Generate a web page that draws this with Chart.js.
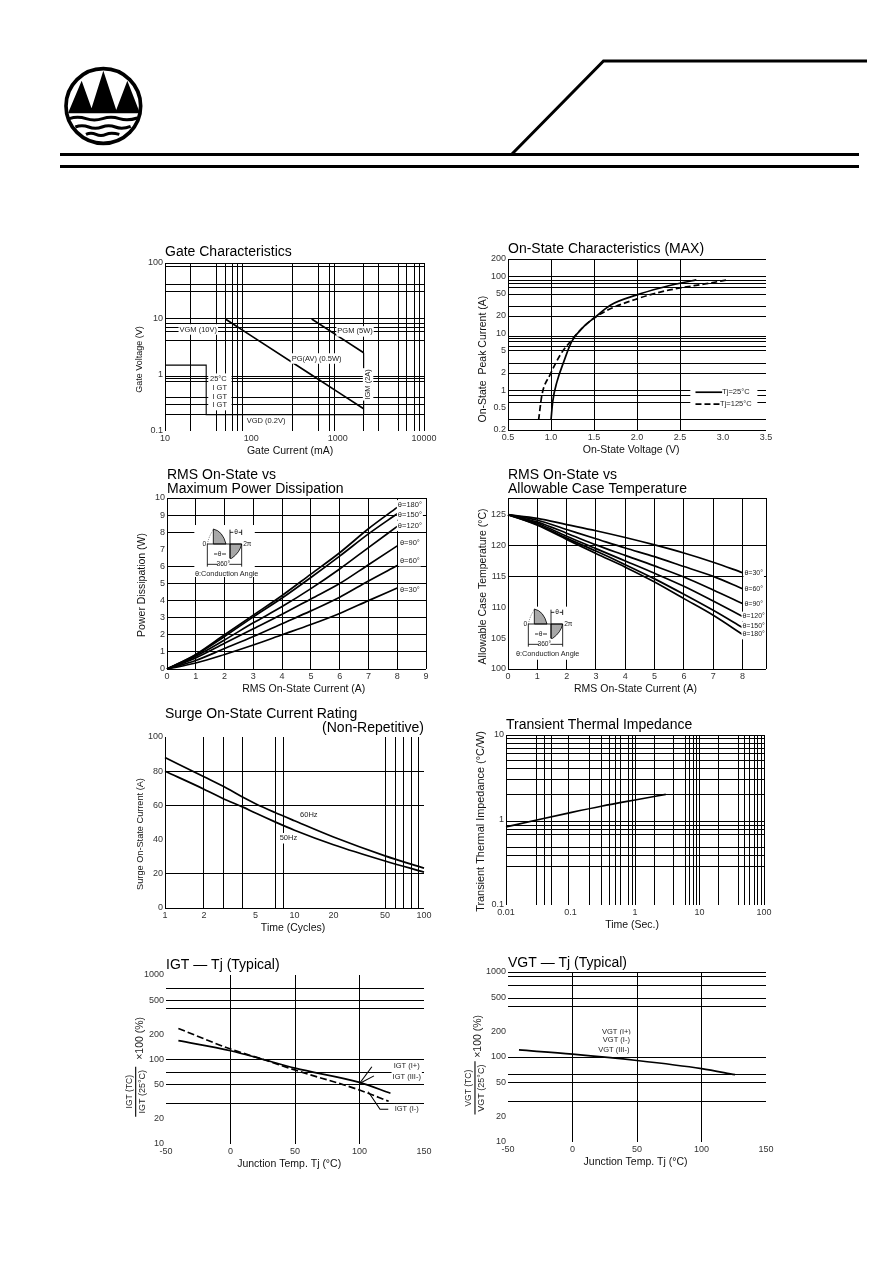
<!DOCTYPE html>
<html>
<head>
<meta charset="utf-8">
<title>Thyristor characteristics</title>
<script src="https://cdn.jsdelivr.net/npm/chart.js@4/dist/chart.umd.min.js"></script>
<style>
html, body { margin: 0; padding: 0; background: #fff; }
#page { position: relative; width: 894px; height: 1263px; overflow: hidden; background: #fff; }
#page canvas, #page svg { position: absolute; display: block; }
</style>
</head>
<body>
<div id="page">
<svg id="head" style="left:0;top:0" width="894" height="200" viewBox="0 0 894 200">
    <g transform="translate(40 50) scale(0.3333)">
        <circle cx="190" cy="168" r="112" fill="#fff" stroke="#000" stroke-width="11"/>
        <path d="M125 92 L84 190 L160 190 Z M190 62 L150 190 L232 190 Z M262 92 L225 190 L300 190 Z" fill="#000"/>
        <g fill="none" stroke="#000" stroke-width="9">
            <path d="M88 206 q25 -8 50 0 t50 0 t50 0 t54 -2"/>
            <path d="M106 231 q20 -8 40 0 t40 0 t40 0 t46 -2"/>
            <path d="M138 253 q15 -7 30 0 t30 0 t40 0"/>
        </g>
    </g>
    <path d="M511 155 L603.5 61 L867 61" fill="none" stroke="#000" stroke-width="3"/>
    <rect x="60" y="153" width="799" height="3" fill="#000"/>
    <rect x="60" y="165" width="799" height="3" fill="#000"/>
</svg>
</div>
<script>
// grid lines are where the scan shows them, tick labels are where they were printed
const gateGridX = [10, 20, 40, 50, 60, 70, 80, 300, 600, 800, 930, 2000, 3000, 5000, 6300, 7700, 8900, 10000]
const gateGridY = [100, 85, 42, 31, 10.4, 8.2, 7.1, 6.1, 4.1, 0.95, 0.86, 0.78, 0.39, 0.3, 0.196]
const gateLabelsX = ["10", "100", "1000", "10000"]
const gateLabelsY = ["0.1", "1", "10", "100"]
const pgmX = [500, 1000, 2000]
const pgmY = [10, 5, 2.5]
const pgavX = [50, 100, 500, 1000, 2000]
const pgavY = [10, 5, 1, 0.5, 0.25]
const igmX = [2000, 2000]
const igmY = [2.5, 0.196]
const igtBoxX = [10, 30, 30, 2000]
const igtBoxY = [1.5, 1.5, 0.196, 0.196]

const onGridX = [0.5, 1, 1.5, 2, 2.5]
const onGridY = [200, 100, 85.5, 73, 62, 47, 29.3, 19.6, 8.7, 7.9, 7, 5.8, 4.95, 2.95, 1.99, 1, 0.81, 0.6, 0.3, 0.2]
const onLabelsX = ["0.5", "1.0", "1.5", "2.0", "2.5", "3.0", "3.5"]
const onLabelsY = ["0.2", "0.5", "1", "2", "5", "10", "20", "50", "100", "200"]
const on25X = [1.0, 1.02, 1.07, 1.15, 1.24, 1.38, 1.5, 1.69, 2.0, 2.27, 2.5, 2.69]
const on25Y = [0.3, 0.63, 1.41, 3.2, 7.1, 13, 18.4, 31, 47, 62, 75, 86]
const on125X = [0.856, 0.895, 0.99, 1.11, 1.24, 1.38, 1.5, 1.69, 2.0, 2.27, 2.5, 2.79, 3.06]
const on125Y = [0.3, 0.83, 1.87, 4.2, 7.6, 13, 18.4, 26.7, 40, 52.6, 62, 73, 86.6]
const legendLineX = [2.68, 2.99]
const legend25Y = [0.92, 0.92]
const legend125Y = [0.57, 0.57]

const rmsGridX = [0, 1, 2, 3, 4, 5, 6, 7, 8, 9]
const powerGridY = [0, 1, 2, 3, 4, 5, 6, 8, 9, 10]
const powerLabelsX = ["0", "1", "2", "3", "4", "5", "6", "7", "8", "9"]
const powerLabelsY = ["0", "1", "2", "3", "4", "5", "6", "7", "8", "9", "10"]
const rmsX = [0, 1, 2, 3, 4, 5, 6, 7, 8]
const power180 = [0, 0.85, 2, 3.15, 4.3, 5.55, 6.8, 8.2, 9.45]
const power150 = [0, 0.82, 1.9, 3.05, 4.15, 5.35, 6.6, 7.9, 9.08]
const power120 = [0, 0.75, 1.7, 2.7, 3.65, 4.7, 5.85, 7.1, 8.34]
const power90 = [0, 0.65, 1.5, 2.35, 3.2, 4.1, 5.0, 6.1, 7.2]
const power60 = [0, 0.5, 1.2, 1.9, 2.65, 3.4, 4.2, 5.15, 6.05]
const power30 = [0, 0.35, 0.85, 1.4, 2.0, 2.6, 3.25, 4.0, 4.74]

const caseGridX = [0, 1, 2, 3, 4, 5, 6, 7, 8, 8.8]
const caseGridY = [100, 115, 120, 127.7]
const caseLabelsX = ["0", "1", "2", "3", "4", "5", "6", "7", "8"]
const caseLabelsY = ["100", "105", "110", "115", "120", "125"]
const case30 = [125, 124.4, 123.4, 122.4, 121.3, 120.1, 118.8, 117.3, 115.6]
const case60 = [125, 124.1, 122.6, 121.1, 119.6, 118.2, 116.6, 115, 113]
const case90 = [125, 123.8, 122, 120.1, 118.4, 116.7, 114.9, 112.8, 110.6]
const case120 = [125, 123.6, 121.5, 119.5, 117.5, 115.5, 113.4, 111, 108.5]
const case150 = [125, 123.4, 121.2, 119.1, 116.9, 114.6, 112.1, 109.5, 106.7]
const case180 = [125, 123.3, 121, 118.7, 116.5, 114.1, 111.4, 108.7, 105.6]

const surgeGridX = [1, 2, 2.82, 3.96, 7.1, 8.2, 50, 60, 70, 80, 90]
const surgeGridY = [0, 20, 60, 80]
const surgeLabelsX = ["1", "2", "5", "10", "20", "50", "100"]
const surgeLabelsY = ["0", "20", "40", "60", "80", "100"]
const cyclesX = [1, 2, 3, 4, 5, 7, 10, 20, 50, 100]
const surge60 = [88, 76.7, 70, 64.7, 61, 56, 51, 41.5, 30.5, 23.3]
const surge50 = [80, 69.5, 63, 59, 55.5, 50.5, 45.5, 37, 27.5, 21]

const thermalGridX = [0.01, 0.03, 0.04, 0.05, 0.092, 0.2, 0.3, 0.4, 0.5, 0.6, 0.8, 0.9, 1, 2, 4, 6, 7, 8, 9, 10, 20, 40, 50, 60, 70, 80, 90, 100]
const thermalGridY = [10, 9, 8, 7, 6, 5, 4, 3, 2, 0.96, 0.86, 0.77, 0.68, 0.48, 0.38, 0.285]
const thermalLabelsX = ["0.01", "0.1", "1", "10", "100"]
const thermalLabelsY = ["0.1", "1", "10"]
const thermalX = [0.01, 0.03, 0.1, 0.3, 1, 3]
const thermalY = [0.83, 1.0, 1.22, 1.45, 1.72, 2]

const tempGridX = [0, 50, 100]
const tempLabelsX = ["-50", "0", "50", "100", "150"]
const tempLabelsY = ["10", "20", "50", "100", "200", "500", "1000"]
const igtGridY = [30.1, 50.8, 70.6, 100, 403, 501, 695]
const igtSolidX = [-40.4, 0, 25.5, 50, 100, 124]
const igtSolidY = [167, 127, 100, 79, 53.6, 39.8]
const igtDashX = [-40.4, 0, 25.5, 50, 100, 122.6]
const igtDashY = [233, 133, 100, 75, 43.5, 32]
const vgtGridY = [30, 50.8, 61.5, 100, 398, 494, 703, 897, 1000]
const vgtX = [-41.5, 0, 50, 100, 126]
const vgtY = [121, 108, 91, 73, 62]

const nb = n => "\u00a0".repeat(n)
const yBox = 50
const xBox = 28
const rightPad = 20
const page = document.querySelector("#page")

Chart.defaults.font.family = "'Liberation Sans', Arial, sans-serif"
Chart.defaults.color = "#222"

function pts(xs, ys) {
    return xs.map((x, i) => ({ x, y: ys[i] }))
}

function line(xs, ys, opts) {
    const o = opts || {}
    const ds = {
        data: pts(xs, ys),
        showLine: true,
        borderColor: "#000",
        borderWidth: o.width || 1.7,
        pointRadius: 0,
        clip: false,
        fill: false
    }
    if (o.dash) ds.borderDash = o.dash
    if (o.smooth) ds.cubicInterpolationMode = "monotone"
    return ds
}

function curve(xs, ys, dash) {
    return line(xs, ys, { smooth: true, dash })
}

function thin(xs, ys) {
    return line(xs, ys, { width: 1.1 })
}

function axis(a) {
    const labelMap = new Map(a.labels.map(s => [Number(s), s]))
    const gridSet = new Set(a.grid)
    const values = [...new Set([...a.grid, ...labelMap.keys()])].sort((p, q) => p - q)
    return {
        type: a.log ? "logarithmic" : "linear",
        min: a.min,
        max: a.max,
        afterBuildTicks(scale) { scale.ticks = values.map(value => ({ value })) },
        ticks: {
            autoSkip: false,
            maxRotation: 0,
            minRotation: 0,
            padding: 2,
            color: "#333",
            font: { size: 9 },
            callback: v => labelMap.has(v) ? labelMap.get(v) : ""
        },
        grid: {
            drawTicks: false,
            lineWidth: 1,
            color: c => c.tick && gridSet.has(c.tick.value) ? "#000" : "rgba(0,0,0,0)"
        },
        border: { display: false }
    }
}

// white patches go under the curves, texts go over them
function decor(spec) {
    return {
        id: "decor",
        beforeDatasetsDraw(chart) {
            const ctx = chart.ctx
            const sx = chart.scales.x
            const sy = chart.scales.y
            ctx.save()
            ctx.fillStyle = "#fff"
            ;(spec.blanks || []).forEach(b => {
                const x0 = sx.getPixelForValue(b[0])
                const x1 = sx.getPixelForValue(b[1])
                const y0 = sy.getPixelForValue(b[2])
                const y1 = sy.getPixelForValue(b[3])
                ctx.fillRect(x0, y1, x1 - x0, y0 - y1)
            })
            ctx.restore()
        },
        afterDatasetsDraw(chart) {
            const ctx = chart.ctx
            ;(spec.notes || []).forEach(n => {
                const size = n.size || 7.5
                ctx.save()
                ctx.translate(chart.scales.x.getPixelForValue(n.x), chart.scales.y.getPixelForValue(n.y))
                if (n.rot) ctx.rotate(n.rot * Math.PI / 180)
                ctx.font = size + "px 'Liberation Sans', Arial, sans-serif"
                ctx.textAlign = "center"
                ctx.textBaseline = "middle"
                if (!n.plain) {
                    const w = ctx.measureText(n.t).width + 2
                    ctx.fillStyle = "#fff"
                    ctx.fillRect(-w / 2, -size * 0.7, w, size * 1.4)
                }
                ctx.fillStyle = n.color || "#222"
                ctx.fillText(n.t, 0, 0)
                ctx.restore()
            })
        }
    }
}

function panel(spec) {
    const box = spec.box
    const lines = spec.title.length + (spec.subtitle ? 1 : 0)
    const titleBlock = lines * 14 + spec.gap
    const canvas = document.createElement("canvas")
    canvas.width = yBox + (box.r - box.l) + rightPad
    canvas.height = titleBlock + (box.b - box.t) + xBox
    canvas.style.left = (box.l - yBox) + "px"
    canvas.style.top = (box.t - titleBlock) + "px"
    page.appendChild(canvas)

    const x = axis(spec.x)
    const y = axis(spec.y)
    x.afterFit = s => { s.height = xBox }
    y.afterFit = s => { s.width = yBox }
    x.title = {
        display: true,
        text: spec.x.title,
        color: "#111",
        font: { size: 10.5, lineHeight: "12px" },
        padding: { top: 0, bottom: 2 }
    }
    if (spec.y.title) {
        y.title = {
            display: true,
            text: spec.y.title,
            color: "#111",
            font: { size: spec.y.titleSize || 10.5, lineHeight: "12px" },
            padding: { top: 19, bottom: 0 }
        }
    }
    const titleFont = { size: 14, lineHeight: "14px", weight: "normal" }
    return new Chart(canvas, {
        type: "scatter",
        data: { datasets: spec.datasets },
        options: {
            responsive: false,
            animation: false,
            devicePixelRatio: 1,
            events: [],
            layout: { padding: { left: 0, right: rightPad, top: 0, bottom: 0 } },
            scales: { x, y },
            plugins: {
                legend: { display: false },
                tooltip: { enabled: false },
                title: {
                    display: true,
                    text: spec.title,
                    align: "start",
                    fullSize: false,
                    color: "#000",
                    font: titleFont,
                    padding: { top: 0, bottom: spec.subtitle ? 0 : spec.gap }
                },
                subtitle: {
                    display: !!spec.subtitle,
                    text: spec.subtitle || "",
                    align: "end",
                    fullSize: false,
                    color: "#000",
                    font: titleFont,
                    padding: { top: 0, bottom: spec.gap }
                }
            }
        },
        plugins: [decor(spec)]
    })
}

panel({
    box: { l: 165, r: 424, t: 263, b: 431 },
    title: ["Gate Characteristics"],
    gap: 4,
    x: { log: true, min: 10, max: 10000, grid: gateGridX, labels: gateLabelsX, title: "Gate Current (mA)" + nb(3) },
    y: { log: true, min: 0.1, max: 100, grid: gateGridY, labels: gateLabelsY, title: "Gate Voltage (V)" + nb(10), titleSize: 9 },
    datasets: [
        line(pgmX, pgmY),
        line(pgavX, pgavY),
        thin(igmX, igmY),
        thin(igtBoxX, igtBoxY)
    ],
    blanks: [[31.7, 59, 0.24, 1.03]],
    notes: [
        { t: "VGM (10V)", x: 24.3, y: 6.5 },
        { t: "PGM (5W)", x: 1590, y: 6 },
        { t: "PG(AV) (0.5W)", x: 570, y: 1.97 },
        { t: "25°C", x: 41.5, y: 0.86 },
        { t: "I GT", x: 43, y: 0.58 },
        { t: "I GT", x: 43, y: 0.41 },
        { t: "I GT", x: 43, y: 0.29 },
        { t: "VGD (0.2V)", x: 148, y: 0.15 },
        { t: "IGM (2A)", x: 2250, y: 0.68, rot: -90 }
    ]
})

panel({
    box: { l: 508, r: 766, t: 259, b: 430 },
    title: ["On-State Characteristics (MAX)"],
    gap: 3,
    x: { min: 0.5, max: 3.5, grid: onGridX, labels: onLabelsX, title: "On-State Voltage (V)" + nb(4) },
    y: { log: true, min: 0.2, max: 200, grid: onGridY, labels: onLabelsY, title: "On-State  Peak Current (A)" + nb(10) },
    datasets: [
        curve(on25X, on25Y),
        curve(on125X, on125Y, [6, 3]),
        line(legendLineX, legend25Y),
        line(legendLineX, legend125Y, { dash: [6, 3] })
    ],
    blanks: [[2.62, 3.4, 0.48, 1.08]],
    notes: [
        { t: "Tj=25°C", x: 3.15, y: 0.92, plain: true },
        { t: "Tj=125°C", x: 3.15, y: 0.57, plain: true }
    ]
})

panel({
    box: { l: 167, r: 426, t: 498, b: 669 },
    title: ["RMS On-State vs", "Maximum Power Dissipation"],
    gap: 2,
    x: { min: 0, max: 9, grid: rmsGridX, labels: powerLabelsX, title: nb(5) + "RMS On-State Current (A)" },
    y: { min: 0, max: 10, grid: powerGridY, labels: powerLabelsY, title: "Power Dissipation (W)" + nb(1) },
    datasets: [
        curve(rmsX, power180),
        curve(rmsX, power150),
        curve(rmsX, power120),
        curve(rmsX, power90),
        curve(rmsX, power60),
        curve(rmsX, power30)
    ],
    blanks: [[0.95, 3.05, 5.38, 8.42]],
    notes: [
        { t: "θ=180°", x: 8.44, y: 9.57 },
        { t: "θ=150°", x: 8.44, y: 9.03 },
        { t: "θ=120°", x: 8.44, y: 8.38 },
        { t: "θ=90°", x: 8.44, y: 7.37 },
        { t: "θ=60°", x: 8.44, y: 6.3 },
        { t: "θ=30°", x: 8.44, y: 4.6 }
    ]
})

panel({
    box: { l: 508, r: 766, t: 498, b: 669 },
    title: ["RMS On-State vs", "Allowable Case Temperature"],
    gap: 2,
    x: { min: 0, max: 8.8, grid: caseGridX, labels: caseLabelsX, title: "RMS On-State Current (A)" + nb(1) },
    y: { min: 100, max: 127.7, grid: caseGridY, labels: caseLabelsY, title: "Allowable Case Temperature (°C)" + nb(2) },
    datasets: [
        curve(rmsX, case30),
        curve(rmsX, case60),
        curve(rmsX, case90),
        curve(rmsX, case120),
        curve(rmsX, case150),
        curve(rmsX, case180)
    ],
    blanks: [[0.28, 2.44, 101.5, 110.1]],
    notes: [
        { t: "θ=30°", x: 8.38, y: 115.6, size: 7 },
        { t: "θ=60°", x: 8.38, y: 113, size: 7 },
        { t: "θ=90°", x: 8.38, y: 110.6, size: 7 },
        { t: "θ=120°", x: 8.38, y: 108.5, size: 7 },
        { t: "θ=150°", x: 8.38, y: 106.9, size: 7 },
        { t: "θ=180°", x: 8.38, y: 105.6, size: 7 }
    ]
})

panel({
    box: { l: 165, r: 424, t: 737, b: 908 },
    title: ["Surge On-State Current Rating"],
    subtitle: "(Non-Repetitive)",
    gap: 2,
    x: { log: true, min: 1, max: 100, grid: surgeGridX, labels: surgeLabelsX, title: "Time (Cycles)" + nb(1) },
    y: { min: 0, max: 100, grid: surgeGridY, labels: surgeLabelsY, title: "Surge On-State Current (A)" + nb(9), titleSize: 9.2 },
    datasets: [
        curve(cyclesX, surge60),
        curve(cyclesX, surge50)
    ],
    notes: [
        { t: "60Hz", x: 12.9, y: 54.4 },
        { t: "50Hz", x: 8.97, y: 40.8 }
    ]
})

panel({
    box: { l: 506, r: 764, t: 735, b: 905 },
    title: ["Transient Thermal Impedance"],
    gap: 3,
    x: { log: true, min: 0.01, max: 100, grid: thermalGridX, labels: thermalLabelsX, title: "Time (Sec.)" + nb(2) },
    y: { log: true, min: 0.1, max: 10, grid: thermalGridY, labels: thermalLabelsY, title: "Transient Thermal Impedance (°C/W)" + nb(1), titleSize: 10.9 },
    datasets: [
        curve(thermalX, thermalY)
    ]
})

panel({
    box: { l: 166, r: 424, t: 975, b: 1144 },
    title: ["IGT — Tj (Typical)"],
    gap: 3,
    x: { min: -50, max: 150, grid: tempGridX, labels: tempLabelsX, title: "Junction Temp. Tj (°C)" + nb(4) },
    y: { log: true, min: 10, max: 1000, grid: igtGridY, labels: tempLabelsY },
    datasets: [
        curve(igtSolidX, igtSolidY),
        curve(igtDashX, igtDashY, [7, 3]),
        thin([100, 109.6], [52, 82]),
        thin([100, 111.2], [52, 64]),
        thin([106.8, 115.9, 122.3], [41.5, 25.8, 25.8]),
        thin([-73.5, -73.5], [21, 82])
    ],
    notes: [
        { t: "IGT (I+)", x: 136.6, y: 84 },
        { t: "IGT (III-)", x: 136.6, y: 62 },
        { t: "IGT (I-)", x: 136.6, y: 25.8 },
        { t: "IGT (TC)", x: -78.5, y: 41.6, rot: -90, size: 8.5, plain: true },
        { t: "IGT (25°C)", x: -68.5, y: 41.6, rot: -90, size: 9, plain: true },
        { t: "×100 (%)", x: -70.2, y: 178, rot: -90, size: 10.5, plain: true }
    ]
})

panel({
    box: { l: 508, r: 766, t: 972, b: 1142 },
    title: ["VGT — Tj (Typical)"],
    gap: 2,
    x: { min: -50, max: 150, grid: tempGridX, labels: tempLabelsX, title: "Junction Temp. Tj (°C)" + nb(1) },
    y: { log: true, min: 10, max: 1000, grid: vgtGridY, labels: tempLabelsY },
    datasets: [
        curve(vgtX, vgtY),
        thin([-75.6, -75.6], [21, 89])
    ],
    notes: [
        { t: "VGT (I+)", x: 34, y: 197 },
        { t: "VGT (I-)", x: 34, y: 160 },
        { t: "VGT (III-)", x: 32, y: 122 },
        { t: "VGT (TC)", x: -80.5, y: 43, rot: -90, size: 8.5, plain: true },
        { t: "VGT (25°C)", x: -70.5, y: 43, rot: -90, size: 9, plain: true },
        { t: "×100 (%)", x: -73, y: 175, rot: -90, size: 10.5, plain: true }
    ]
})

// the small waveform sketch printed inside the two RMS panels
const sketch = `
<defs><pattern id="dots" width="5" height="5" patternUnits="userSpaceOnUse"><circle cx="2.5" cy="2.5" r="1.6" fill="#000"/></pattern></defs>
<g fill="none" stroke="#000" stroke-width="2.5">
<path d="M70 42 Q98 48 108 87 L70 87 Z" fill="url(#dots)"/>
<path d="M120 87 L155 87 Q150 112 125 130 L120 130 Z" fill="url(#dots)"/>
<path d="M52 87 L155 87 M120 44 L120 130 M155 44 L155 60 M120 52 L130 52 M146 52 L155 52 M52 87 L52 155 M155 87 L155 155 M52 148 L155 148 M72 117 L82 117 M96 117 L108 117"/>
<path d="M52 87 Q58 60 70 45" stroke-width="1.5" stroke-dasharray="3 3"/>
</g>
<g font-family="Liberation Sans, Arial, sans-serif" font-size="20" text-anchor="middle" fill="#222">
<text x="43" y="93">0</text><text x="172" y="93">2π</text><text x="138" y="58">θ</text><text x="89" y="123">θ</text>
<rect x="84" y="138" width="34" height="20" fill="#fff"/><text x="100" y="154">360°</text>
<text x="110" y="182" font-size="22">θ:Conduction Angle</text>
</g>`

function placeSketch(left, top) {
    const svg = document.createElementNS("http://www.w3.org/2000/svg", "svg")
    svg.setAttribute("width", 75)
    svg.setAttribute("height", 70)
    svg.setAttribute("viewBox", "0 0 225 210")
    svg.style.left = left + "px"
    svg.style.top = top + "px"
    svg.innerHTML = sketch
    page.appendChild(svg)
}
placeSketch(190, 515)
placeSketch(511, 595)
</script>
</body>
</html>
